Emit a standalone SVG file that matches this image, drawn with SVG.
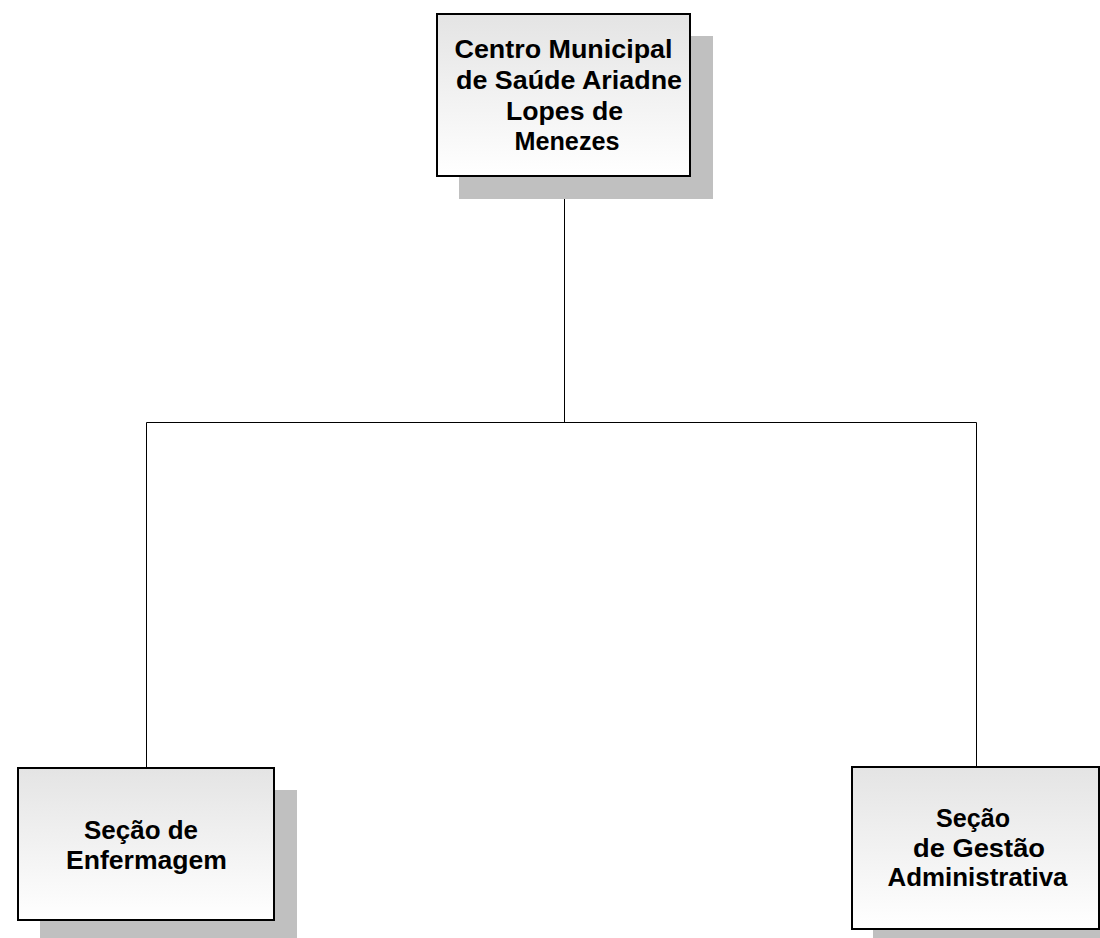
<svg xmlns="http://www.w3.org/2000/svg" width="1100" height="938" viewBox="0 0 1100 938">
<defs>
<linearGradient id="g" x1="0" y1="0" x2="0" y2="1">
<stop offset="0" stop-color="#e4e4e4"/>
<stop offset="1" stop-color="#ffffff"/>
</linearGradient>
<style>
.shadow{fill:#c0c0c0;stroke:none}
.box{fill:url(#g);stroke:#000;stroke-width:2}
.t{font-family:"Liberation Sans",Arial,sans-serif;font-weight:bold;font-size:25px;fill:#000;text-anchor:middle}
.c{fill:none;stroke:#000;stroke-width:1}
</style>
</defs>
<rect width="1100" height="938" fill="#fff"/>
<g id="connectors">
<path class="c" d="M564.5 176V422.5M146.5 422.5H976.5M146.5 422.5V768M976.5 422.5V767"/>
</g>
<g id="node-centro">
<rect class="shadow" x="459" y="36" width="254" height="163"/>
<rect class="box" x="437" y="14" width="253" height="162"/>
<text class="t" x="563.5" y="58" textLength="218" lengthAdjust="spacingAndGlyphs">Centro Municipal</text>
<text class="t" x="569" y="88.5" textLength="226" lengthAdjust="spacingAndGlyphs">de Saúde Ariadne</text>
<text class="t" x="564.5" y="119.5" textLength="117" lengthAdjust="spacingAndGlyphs">Lopes de</text>
<text class="t" x="567" y="150" textLength="105" lengthAdjust="spacingAndGlyphs">Menezes</text>
</g>
<g id="node-enfermagem">
<rect class="shadow" x="40" y="790" width="257" height="148"/>
<rect class="box" x="18" y="768" width="256" height="152"/>
<text class="t" x="141" y="838.5" textLength="114" lengthAdjust="spacingAndGlyphs">Seção de</text>
<text class="t" x="146.5" y="868.5" textLength="161" lengthAdjust="spacingAndGlyphs">Enfermagem</text>
</g>
<g id="node-gestao">
<rect class="shadow" x="873" y="789" width="227" height="149"/>
<rect class="box" x="852" y="767" width="247" height="162"/>
<text class="t" x="973" y="826.5" textLength="74" lengthAdjust="spacingAndGlyphs">Seção</text>
<text class="t" x="979" y="856.5" textLength="132" lengthAdjust="spacingAndGlyphs">de Gestão</text>
<text class="t" x="977.5" y="886" textLength="180" lengthAdjust="spacingAndGlyphs">Administrativa</text>
</g>
</svg>
